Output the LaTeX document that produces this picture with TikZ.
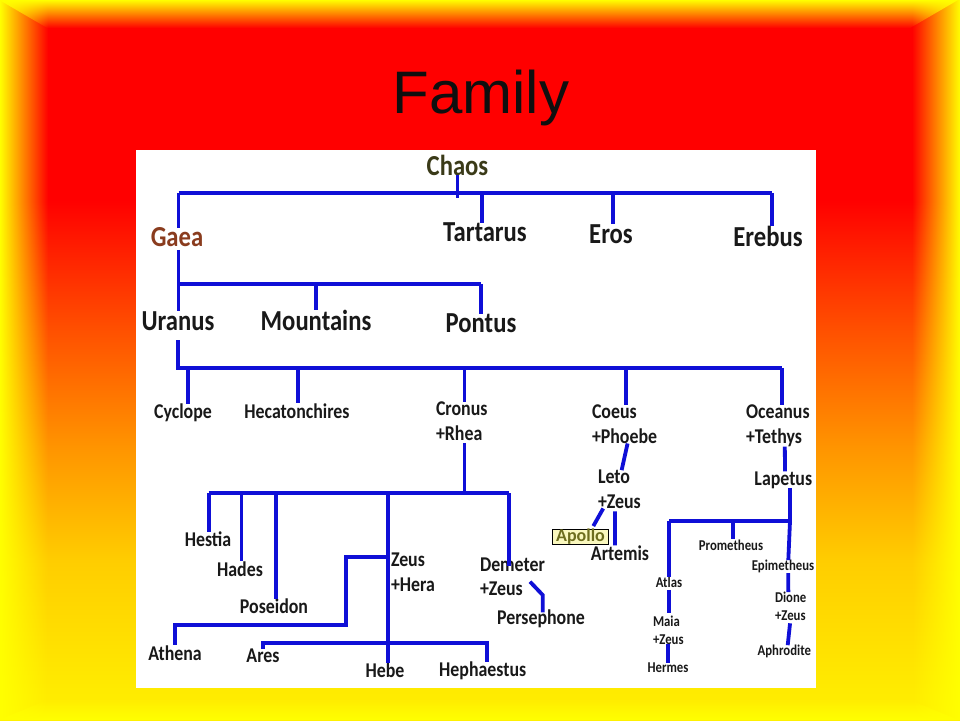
\documentclass[tikz,border=0pt]{standalone}
\usepackage{fontspec}
\newfontfamily\carl[FakeStretch=0.85]{Carlito}
\newfontfamily\carlw{Carlito}
\newfontfamily\titlefont{Liberation Sans}
\usetikzlibrary{fadings}
\definecolor{lineblue}{RGB}{15,15,215}
\definecolor{txt}{RGB}{25,25,25}
\definecolor{chaoscol}{RGB}{58,58,24}
\definecolor{gaeacol}{RGB}{138,60,30}
\definecolor{apollofill}{RGB}{250,248,190}
\definecolor{apollotext}{RGB}{110,110,30}
\definecolor{titleblack}{RGB}{15,15,15}
\definecolor{bgA}{RGB}{255,240,0}
\definecolor{bgB}{RGB}{255,235,0}
\definecolor{bgC}{RGB}{255,205,0}
\definecolor{bgD}{RGB}{255,150,0}
\definecolor{bgE}{RGB}{255,80,0}
\definecolor{bgF}{RGB}{255,0,0}
\definecolor{edgeyellow}{RGB}{255,255,0}
\pgfdeclareverticalshading{bgshade}{100bp}{color(0bp)=(bgA); color(25bp)=(bgA); color(27.08bp)=(bgB); color(36.11bp)=(bgC); color(43.75bp)=(bgD); color(52.08bp)=(bgE); color(61.11bp)=(bgF); color(100bp)=(bgF)}
\tikzfading[name=fadeR, left color=transparent!0, right color=transparent!100]
\tikzfading[name=fadeL, left color=transparent!100, right color=transparent!0]
\tikzfading[name=fadeD, top color=transparent!0, bottom color=transparent!100]
\tikzfading[name=fadeU, top color=transparent!100, bottom color=transparent!0]
\begin{document}
\begin{tikzpicture}[x=1pt,y=-1pt,
  lbl/.style={text=txt, inner sep=0pt, outer sep=0pt, anchor=base},
  big/.style={lbl, font=\carl\bfseries\fontsize{29}{34}\selectfont},
  mid/.style={lbl, font=\carl\bfseries\fontsize{21}{24.5}\selectfont},
  midtwo/.style={mid, align=left, anchor=base west},
  sml/.style={lbl, font=\carl\bfseries\fontsize{15}{18}\selectfont},
  smltwo/.style={sml, align=left, anchor=base west},
  apollobox/.style={font=\carlw\bfseries\fontsize{18}{20}\selectfont, text=apollotext, fill=apollofill, draw=black, line width=0.8pt, inner xsep=3.4pt, inner ysep=0pt, outer sep=0pt, anchor=base},
  link/.style={draw=lineblue, line width=3.8pt}]
\useasboundingbox (0,0) rectangle (960,720);
% background
\shade[shading=bgshade] (0,0) rectangle (960,720);
\fill[edgeyellow, path fading=fadeD] (0,0) -- (960,0) -- (912,28) -- (48,28) -- cycle;
\fill[edgeyellow, path fading=fadeU] (0,720) -- (48,700) -- (912,700) -- (960,720) -- cycle;
\fill[edgeyellow, path fading=fadeR] (0,0) rectangle (48,720);
\fill[edgeyellow, path fading=fadeL] (912,0) rectangle (960,720);
\fill[white] (136,150) rectangle (816,688);
% title
\node[font=\titlefont\fontsize{60}{60}\selectfont, text=titleblack, anchor=base, inner sep=0pt] (title) at (481,113) {Family};
% nodes
\node[big, text=chaoscol] (chaos) at (457.5,175) {Chaos};
\node[big, text=gaeacol] (gaea) at (177,246.7) {Gaea};
\node[big] (tartarus) at (485,241.7) {Tartarus};
\node[big] (eros) at (611,243.3) {Eros};
\node[big] (erebus) at (768,246.7) {Erebus};
\node[big] (uranus) at (178,330) {Uranus};
\node[big] (mountains) at (316,330) {Mountains};
\node[big] (pontus) at (481,332.7) {Pontus};
\node[mid] (cyclope) at (183,418.3) {Cyclope};
\node[mid] (hecat) at (297,418) {Hecatonchires};
\node[midtwo] (cronus) at (436,440) {Cronus\\+Rhea};
\node[midtwo] (coeus) at (592,443.3) {Coeus\\+Phoebe};
\node[midtwo] (oceanus) at (746,443.3) {Oceanus\\+Tethys};
\node[mid] (lapetus) at (783.3,485) {Lapetus};
\node[midtwo] (leto) at (598,508.3) {Leto\\+Zeus};
\node[apollobox] (apollo) at (580.5,541.7) {Apollo};
\node[mid] (artemis) at (620,560) {Artemis};
\node[mid] (hestia) at (208,546.7) {Hestia};
\node[mid] (hades) at (240,576) {Hades};
\node[mid] (poseidon) at (274,613.3) {Poseidon};
\node[midtwo] (zeus) at (391,591) {Zeus\\+Hera};
\node[midtwo] (demeter) at (480,595.7) {Demeter\\+Zeus};
\node[mid] (persephone) at (541,624) {Persephone};
\node[mid] (athena) at (175,660) {Athena};
\node[mid] (ares) at (263,662.7) {Ares};
\node[mid] (hebe) at (385,677.3) {Hebe};
\node[mid] (hephaestus) at (482.7,676.7) {Hephaestus};
\node[sml] (prometheus) at (731,550) {Prometheus};
\node[sml] (epimetheus) at (783,570.7) {Epimetheus};
\node[sml] (atlas) at (669,587.3) {Atlas};
\node[smltwo] (dione) at (775,620.7) {Dione\\+Zeus};
\node[smltwo] (maia) at (653,644) {Maia\\+Zeus};
\node[sml] (hermes) at (668,672.7) {Hermes};
\node[sml] (aphrodite) at (784.3,655.7) {Aphrodite};
% junctions
\coordinate (b1w) at (178.5,193.3);
\coordinate (b1e) at (772,193.3);
\coordinate (chaosEnd) at (457.5,198.3);
\coordinate (jT) at (481.6,193.3);
\coordinate (jE) at (613,193.3);
\coordinate (b2w) at (178.5,284);
\coordinate (b2e) at (480.8,284);
\coordinate (jM) at (316,284);
\coordinate (b3w) at (178,368);
\coordinate (b3e) at (781.7,368);
\coordinate (jCy) at (187.7,368);
\coordinate (jHe) at (298,368);
\coordinate (jCr) at (464.5,368);
\coordinate (jCo) at (625.7,368);
\coordinate (b4w) at (208.7,493);
\coordinate (b4e) at (509,493);
\coordinate (jCr2) at (464.5,493);
\coordinate (jHa) at (241.5,493);
\coordinate (jPo) at (276,493);
\coordinate (jZe) at (387.7,493);
\coordinate (zA) at (387.7,557.3);
\coordinate (aK1) at (346,625);
\coordinate (aK2) at (175,625);
\coordinate (arW) at (262.7,643.3);
\coordinate (arE) at (487,643.3);
\coordinate (pS) at (530,581.7);
\coordinate (pK) at (542.7,595);
\coordinate (dmE) at (509,566);
\coordinate (b5w) at (669.3,521);
\coordinate (b5e) at (790,521);
\coordinate (jPr) at (733.3,521);
% connectors
\draw[link] (b1w) -- (b1e);
\draw[link] (chaos.south) -- (chaosEnd);
\draw[link] (b1w) -- (b1w |- gaea.north);
\draw[link] (jT) -- (jT |- tartarus.north);
\draw[link] (jE) -- (jE |- eros.north);
\draw[link] (b1e) -- (b1e |- erebus.north);
\draw[link] ([yshift=-3pt]gaea.south -| b2w) -- (b2w |- uranus.north);
\draw[link] (b2w) -- (b2e);
\draw[link] (jM) -- (jM |- mountains.north);
\draw[link] (b2e) -- (b2e |- pontus.north);
\draw[link] ([yshift=-10pt]uranus.south -| b3w) -- (b3w) -- (b3e);
\draw[link] (jCy) -- (jCy |- cyclope.north);
\draw[link] (jHe) -- (jHe |- hecat.north);
\draw[link] (jCr) -- (jCr |- cronus.north);
\draw[link] (jCo) -- (jCo |- coeus.north);
\draw[link] (b3e) -- (b3e |- oceanus.north);
\draw[link] ([yshift=-3pt]cronus.south -| jCr2) -- (jCr2);
\draw[link] (b4w) -- (b4e);
\draw[link] (b4w) -- (b4w |- hestia.north);
\draw[link] (jHa) -- (jHa |- hades.north);
\draw[link] (jPo) -- (jPo |- poseidon.north);
\draw[link] (jZe) -- (jZe |- hebe.north);
\draw[link] (b4e) -- (dmE);
\draw[link] (zA) -| (aK1) -- (aK2) -- (aK2 |- athena.north);
\draw[link] (arW |- ares.north) -- (arW) -- (arE) -- (arE |- hephaestus.north);
\draw[link] (pS) -- (pK) -- ([yshift=-3pt]pK |- persephone.north);
\draw[link] ([xshift=3pt]coeus.south) -- ([xshift=2.2pt]leto.north);
\draw[link] ([xshift=7pt]oceanus.south) -- ([xshift=1.7pt]lapetus.north);
\draw[link] (lapetus.south -| b5e) -- (b5e);
\draw[link] (b5w) -- (b5e);
\draw[link] (b5w) -- (b5w |- atlas.north);
\draw[link] (jPr) -- (jPr |- prometheus.north);
\draw[link] (b5e) -- ([xshift=5.3pt]epimetheus.north);
\draw[link] ([xshift=5.3pt]epimetheus.south) -- ([xshift=-2.3pt]dione.north);
\draw[link] ([xshift=-0.6pt,yshift=-2.5pt]dione.south) -- ([xshift=3.4pt]aphrodite.north);
\draw[link] ([yshift=-2.5pt]atlas.south) -- ([yshift=2.7pt]atlas.south |- maia.north);
\draw[link] (maia.south) -- (maia.south |- hermes.north);
\draw[link] ([xshift=-16.2pt]leto.south) -- ([xshift=12.8pt,yshift=3pt]apollo.north);
\draw[link] ([xshift=-4.5pt,yshift=-3pt]leto.south) -- ([xshift=-5pt]artemis.north);
\end{tikzpicture}
\end{document}
